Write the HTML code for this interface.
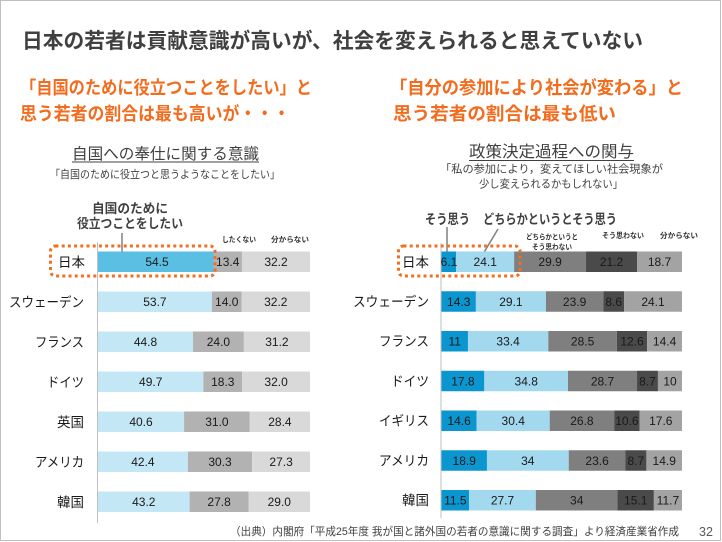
<!DOCTYPE html>
<html><head><meta charset="utf-8">
<style>
html,body{margin:0;padding:0;background:#fff;}
svg{display:block;}
text{font-family:"Liberation Sans","Noto Sans CJK JP",sans-serif;}
.t{font-weight:bold;fill:#404040;}
.o{font-weight:bold;fill:#f36c1e;}
.c{font-size:13.5px;fill:#1a1a1a;text-anchor:end;}
.v{font-size:12px;fill:#1a1a1a;text-anchor:middle;}
.s{font-size:7.5px;font-weight:bold;fill:#333;text-anchor:middle;}
</style></head>
<body>
<svg width="722" height="542" viewBox="0 0 722 542" xmlns="http://www.w3.org/2000/svg">
<rect x="0" y="0" width="722" height="542" fill="#fff"/>
<rect x="0.5" y="0.5" width="720" height="540" fill="none" stroke="#bfbfbf" stroke-width="1"/>

<!-- Title -->
<text class="t" x="22" y="48" font-size="21" textLength="621" lengthAdjust="spacingAndGlyphs">日本の若者は貢献意識が高いが、社会を変えられると思えていない</text>

<!-- Orange headlines -->
<text class="o" x="20" y="94" font-size="18" textLength="292" lengthAdjust="spacingAndGlyphs">「自国のために役立つことをしたい」と</text>
<text class="o" x="20" y="120" font-size="18" textLength="270" lengthAdjust="spacingAndGlyphs">思う若者の割合は最も高いが・・・</text>
<text class="o" x="390" y="94" font-size="18" textLength="293" lengthAdjust="spacingAndGlyphs">「自分の参加により社会が変わる」と</text>
<text class="o" x="393" y="120" font-size="18" textLength="223" lengthAdjust="spacingAndGlyphs">思う若者の割合は最も低い</text>

<!-- Chart headings -->
<text x="72" y="159" font-size="15.5" fill="#404040" textLength="187" lengthAdjust="spacingAndGlyphs">自国への奉仕に関する意識</text>
<line x1="72" y1="162" x2="259" y2="162" stroke="#404040" stroke-width="1"/>
<text x="50" y="178" font-size="11" fill="#404040" textLength="230" lengthAdjust="spacingAndGlyphs">「自国のために役立つと思うようなことをしたい」</text>

<text x="469" y="157" font-size="16" fill="#404040" textLength="165" lengthAdjust="spacingAndGlyphs">政策決定過程への関与</text>
<line x1="469" y1="160.5" x2="634" y2="160.5" stroke="#404040" stroke-width="1"/>
<text x="551.5" y="172.5" font-size="11" fill="#404040" text-anchor="middle" textLength="223" lengthAdjust="spacingAndGlyphs">「私の参加により，変えてほしい社会現象が</text>
<text x="551" y="187.5" font-size="11" fill="#404040" text-anchor="middle" textLength="144" lengthAdjust="spacingAndGlyphs">少し変えられるかもしれない」</text>

<!-- Left chart annotations -->
<text class="t" x="130" y="213" font-size="13" text-anchor="middle" textLength="76" lengthAdjust="spacingAndGlyphs">自国のために</text>
<text class="t" x="130" y="228" font-size="13" text-anchor="middle" textLength="106" lengthAdjust="spacingAndGlyphs">役立つことをしたい</text>
<line x1="122" y1="233" x2="122" y2="262" stroke="#808080" stroke-width="1.5"/>
<text class="s" x="239" y="242" textLength="34" lengthAdjust="spacingAndGlyphs">したくない</text>
<text class="s" x="290" y="242" textLength="38" lengthAdjust="spacingAndGlyphs">分からない</text>

<!-- Left axis -->
<line x1="97.5" y1="242" x2="97.5" y2="523" stroke="#bfbfbf" stroke-width="1"/>

<!-- Left bars -->
<g>
<rect x="98" y="251.5" width="115.54" height="20.5" fill="#5bbfe4"/>
<rect x="213.54" y="251.5" width="28.41" height="20.5" fill="#b2b2b2"/>
<rect x="241.95" y="251.5" width="68.05" height="20.5" fill="#d9d9d9"/>

<rect x="98" y="291.5" width="113.84" height="20.5" fill="#c4e7f5"/>
<rect x="211.84" y="291.5" width="29.68" height="20.5" fill="#b2b2b2"/>
<rect x="241.52" y="291.5" width="68.48" height="20.5" fill="#d9d9d9"/>

<rect x="98" y="331.5" width="94.98" height="20.5" fill="#c4e7f5"/>
<rect x="192.98" y="331.5" width="50.88" height="20.5" fill="#b2b2b2"/>
<rect x="243.86" y="331.5" width="66.14" height="20.5" fill="#d9d9d9"/>

<rect x="98" y="371.5" width="105.36" height="20.5" fill="#c4e7f5"/>
<rect x="203.36" y="371.5" width="38.8" height="20.5" fill="#b2b2b2"/>
<rect x="242.16" y="371.5" width="67.84" height="20.5" fill="#d9d9d9"/>

<rect x="98" y="411.5" width="86.07" height="20.5" fill="#c4e7f5"/>
<rect x="184.07" y="411.5" width="65.72" height="20.5" fill="#b2b2b2"/>
<rect x="249.79" y="411.5" width="60.21" height="20.5" fill="#d9d9d9"/>

<rect x="98" y="451.5" width="89.89" height="20.5" fill="#c4e7f5"/>
<rect x="187.89" y="451.5" width="64.24" height="20.5" fill="#b2b2b2"/>
<rect x="252.13" y="451.5" width="57.87" height="20.5" fill="#d9d9d9"/>

<rect x="98" y="491.5" width="91.58" height="20.5" fill="#c4e7f5"/>
<rect x="189.58" y="491.5" width="58.94" height="20.5" fill="#b2b2b2"/>
<rect x="248.52" y="491.5" width="61.48" height="20.5" fill="#d9d9d9"/>
</g>

<!-- Left values -->
<g>
<text class="v" x="157" y="266">54.5</text><text class="v" x="227.7" y="266">13.4</text><text class="v" x="276" y="266">32.2</text>
<text class="v" x="154.9" y="306">53.7</text><text class="v" x="226.7" y="306">14.0</text><text class="v" x="275.8" y="306">32.2</text>
<text class="v" x="145.5" y="346">44.8</text><text class="v" x="218.4" y="346">24.0</text><text class="v" x="276.9" y="346">31.2</text>
<text class="v" x="150.7" y="386">49.7</text><text class="v" x="222.8" y="386">18.3</text><text class="v" x="276.1" y="386">32.0</text>
<text class="v" x="141" y="426">40.6</text><text class="v" x="216.9" y="426">31.0</text><text class="v" x="279.9" y="426">28.4</text>
<text class="v" x="142.9" y="466">42.4</text><text class="v" x="220" y="466">30.3</text><text class="v" x="281.1" y="466">27.3</text>
<text class="v" x="143.8" y="506">43.2</text><text class="v" x="219.1" y="506">27.8</text><text class="v" x="279.3" y="506">29.0</text>
</g>

<!-- Left categories -->
<g>
<text class="c" x="85" y="267">日本</text>
<text class="c" x="84" y="307" textLength="75" lengthAdjust="spacingAndGlyphs">スウェーデン</text>
<text class="c" x="84" y="347" textLength="49" lengthAdjust="spacingAndGlyphs">フランス</text>
<text class="c" x="84" y="387" textLength="37" lengthAdjust="spacingAndGlyphs">ドイツ</text>
<text class="c" x="84" y="427">英国</text>
<text class="c" x="84" y="467" textLength="49" lengthAdjust="spacingAndGlyphs">アメリカ</text>
<text class="c" x="84" y="507">韓国</text>
</g>

<!-- Left dotted box -->
<rect x="50.5" y="246" width="164.5" height="30" rx="5" fill="none" stroke="#f07020" stroke-width="3" stroke-dasharray="3 3.2"/>

<!-- Right chart annotations -->
<text class="t" x="425" y="224" font-size="13.5" textLength="45" lengthAdjust="spacingAndGlyphs">そう思う</text>
<text class="t" x="483" y="224" font-size="13.5" textLength="134" lengthAdjust="spacingAndGlyphs">どちらかというとそう思う</text>
<line x1="447" y1="227" x2="447" y2="255" stroke="#808080" stroke-width="1.5"/>
<line x1="498" y1="229" x2="483" y2="254" stroke="#808080" stroke-width="1.5"/>
<text class="s" x="552" y="239.5" textLength="52" lengthAdjust="spacingAndGlyphs">どちらかというと</text>
<text class="s" x="552" y="249.5" textLength="40" lengthAdjust="spacingAndGlyphs">そう思わない</text>
<text class="s" x="623" y="238" textLength="42" lengthAdjust="spacingAndGlyphs">そう思わない</text>
<text class="s" x="679" y="238" textLength="38" lengthAdjust="spacingAndGlyphs">分からない</text>

<!-- Right axis -->
<line x1="441" y1="243" x2="441" y2="518" stroke="#bfbfbf" stroke-width="1"/>

<!-- Right bars -->
<g>
<rect x="441.5" y="251.5" width="14.67" height="20.5" fill="#0b96cf"/>
<rect x="456.17" y="251.5" width="57.96" height="20.5" fill="#a2d9ee"/>
<rect x="514.13" y="251.5" width="71.91" height="20.5" fill="#7f7f7f"/>
<rect x="586.04" y="251.5" width="50.99" height="20.5" fill="#4a4a4a"/>
<rect x="637.03" y="251.5" width="44.97" height="20.5" fill="#a3a3a3"/>

<rect x="441.5" y="291.25" width="34.39" height="20.5" fill="#0b96cf"/>
<rect x="475.89" y="291.25" width="69.99" height="20.5" fill="#a2d9ee"/>
<rect x="545.88" y="291.25" width="57.48" height="20.5" fill="#7f7f7f"/>
<rect x="603.36" y="291.25" width="20.68" height="20.5" fill="#4a4a4a"/>
<rect x="624.04" y="291.25" width="57.96" height="20.5" fill="#a3a3a3"/>

<rect x="441.5" y="331" width="26.46" height="20.5" fill="#0b96cf"/>
<rect x="467.96" y="331" width="80.33" height="20.5" fill="#a2d9ee"/>
<rect x="548.29" y="331" width="68.54" height="20.5" fill="#7f7f7f"/>
<rect x="616.83" y="331" width="30.3" height="20.5" fill="#4a4a4a"/>
<rect x="647.13" y="331" width="34.87" height="20.5" fill="#a3a3a3"/>

<rect x="441.5" y="370.75" width="42.81" height="20.5" fill="#0b96cf"/>
<rect x="484.31" y="370.75" width="83.69" height="20.5" fill="#a2d9ee"/>
<rect x="568" y="370.75" width="69.02" height="20.5" fill="#7f7f7f"/>
<rect x="637.02" y="370.75" width="20.92" height="20.5" fill="#4a4a4a"/>
<rect x="657.94" y="370.75" width="24.06" height="20.5" fill="#a3a3a3"/>

<rect x="441.5" y="410.5" width="35.11" height="20.5" fill="#0b96cf"/>
<rect x="476.61" y="410.5" width="73.11" height="20.5" fill="#a2d9ee"/>
<rect x="549.72" y="410.5" width="64.45" height="20.5" fill="#7f7f7f"/>
<rect x="614.17" y="410.5" width="25.49" height="20.5" fill="#4a4a4a"/>
<rect x="639.66" y="410.5" width="42.34" height="20.5" fill="#a3a3a3"/>

<rect x="441.5" y="450.25" width="45.45" height="20.5" fill="#0b96cf"/>
<rect x="486.95" y="450.25" width="81.77" height="20.5" fill="#a2d9ee"/>
<rect x="568.72" y="450.25" width="56.76" height="20.5" fill="#7f7f7f"/>
<rect x="625.48" y="450.25" width="20.92" height="20.5" fill="#4a4a4a"/>
<rect x="646.4" y="450.25" width="35.6" height="20.5" fill="#a3a3a3"/>

<rect x="441.5" y="490" width="27.66" height="20.5" fill="#0b96cf"/>
<rect x="469.16" y="490" width="66.62" height="20.5" fill="#a2d9ee"/>
<rect x="535.78" y="490" width="81.77" height="20.5" fill="#7f7f7f"/>
<rect x="617.55" y="490" width="36.32" height="20.5" fill="#4a4a4a"/>
<rect x="653.87" y="490" width="28.13" height="20.5" fill="#a3a3a3"/>
</g>

<!-- Right values -->
<g>
<text class="v" x="449" y="266">6.1</text><text class="v" x="485.2" y="266">24.1</text><text class="v" x="550.1" y="266">29.9</text><text class="v" x="611.5" y="266">21.2</text><text class="v" x="659.5" y="266">18.7</text>
<text class="v" x="458.7" y="305.75">14.3</text><text class="v" x="510.9" y="305.75">29.1</text><text class="v" x="574.6" y="305.75">23.9</text><text class="v" x="613.7" y="305.75">8.6</text><text class="v" x="653" y="305.75">24.1</text>
<text class="v" x="454.7" y="345.5">11</text><text class="v" x="508.1" y="345.5">33.4</text><text class="v" x="582.6" y="345.5">28.5</text><text class="v" x="632" y="345.5">12.6</text><text class="v" x="664.6" y="345.5">14.4</text>
<text class="v" x="462.9" y="385.25">17.8</text><text class="v" x="526.2" y="385.25">34.8</text><text class="v" x="602.5" y="385.25">28.7</text><text class="v" x="647.5" y="385.25">8.7</text><text class="v" x="670" y="385.25">10</text>
<text class="v" x="459.1" y="425">14.6</text><text class="v" x="513.2" y="425">30.4</text><text class="v" x="581.9" y="425">26.8</text><text class="v" x="626.9" y="425">10.6</text><text class="v" x="660.8" y="425">17.6</text>
<text class="v" x="464.2" y="464.75">18.9</text><text class="v" x="527.8" y="464.75">34</text><text class="v" x="597.1" y="464.75">23.6</text><text class="v" x="635.9" y="464.75">8.7</text><text class="v" x="664.2" y="464.75">14.9</text>
<text class="v" x="455.3" y="504.5">11.5</text><text class="v" x="502.5" y="504.5">27.7</text><text class="v" x="576.7" y="504.5">34</text><text class="v" x="635.7" y="504.5">15.1</text><text class="v" x="667.9" y="504.5">11.7</text>
</g>

<!-- Right categories -->
<g>
<text class="c" x="429" y="267">日本</text>
<text class="c" x="429" y="306.5" textLength="76" lengthAdjust="spacingAndGlyphs">スウェーデン</text>
<text class="c" x="429" y="346" textLength="50" lengthAdjust="spacingAndGlyphs">フランス</text>
<text class="c" x="429" y="386" textLength="38" lengthAdjust="spacingAndGlyphs">ドイツ</text>
<text class="c" x="429" y="425.5" textLength="50" lengthAdjust="spacingAndGlyphs">イギリス</text>
<text class="c" x="429" y="465.5" textLength="50" lengthAdjust="spacingAndGlyphs">アメリカ</text>
<text class="c" x="429" y="505">韓国</text>
</g>

<!-- Right dotted box -->
<rect x="398.5" y="246" width="121.5" height="30" rx="5" fill="none" stroke="#f07020" stroke-width="3" stroke-dasharray="3 3.2"/>

<!-- Footer -->
<text x="230" y="535" font-size="11" fill="#404040" textLength="449" lengthAdjust="spacingAndGlyphs">（出典）内閣府「平成25年度 我が国と諸外国の若者の意識に関する調査」より経済産業省作成</text>
<text x="699" y="536" font-size="12.5" fill="#595959">32</text>
</svg>
</body></html>
